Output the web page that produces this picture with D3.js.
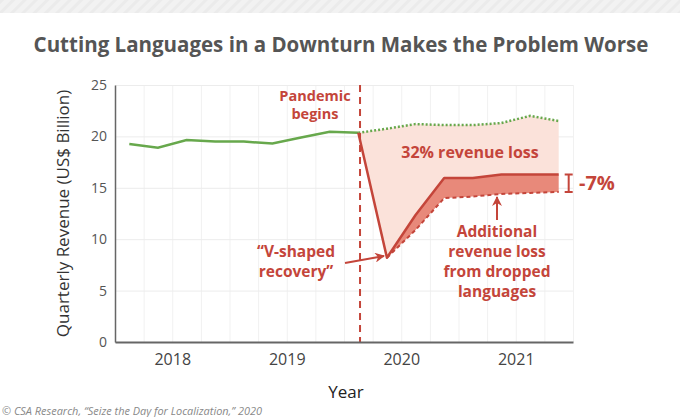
<!DOCTYPE html>
<html>
<head>
<meta charset="utf-8">
<script src="https://cdn.jsdelivr.net/npm/d3@7"></script>
<style>
  html, body { margin: 0; padding: 0; background: #fff; }
  svg { display: block; font-family: 'Open Sans', sans-serif; }
</style>
</head>
<body>
<div id="chart"></div>
<script>
// Quarter midpoints (decimal years) used for every series
const quarters = [
  2017.625, 2017.875, 2018.125, 2018.375, 2018.625, 2018.875, 2019.125, 2019.375,
  2019.625, 2019.875, 2020.125, 2020.375, 2020.625, 2020.875, 2021.125, 2021.375,
];

// Revenue before the pandemic (quarters 0-8)
const preRevenue = [19.25, 18.9, 19.65, 19.5, 19.5, 19.3, 19.9, 20.45, 20.35];

// Projected revenue without a downturn (quarters 8-15)
const projectedRevenue = [20.35, 20.75, 21.2, 21.1, 21.1, 21.3, 22.0, 21.5];

// Revenue keeping all languages (quarters 8-15)
const keptRevenue = [20.35, 8.2, 12.35, 15.95, 15.95, 16.3, 16.3, 16.3];

// Revenue after dropping languages (quarters 9-15)
const droppedRevenue = [8.2, 10.9, 14.0, 14.15, 14.4, 14.5, 14.6];

const yearTicks = [2018, 2019, 2020, 2021];
const revenueTicks = [0, 5, 10, 15, 20, 25];
const pandemicStart = 2019.64;

const width = 680;
const height = 417;
const margin = { top: 85, right: 107, bottom: 75, left: 115 };

const red = '#c4453a';
const green = '#67a84c';

const svg = d3
  .select('#chart')
  .append('svg')
  .attr('width', width)
  .attr('height', height);

// Striped header band
const defs = svg.append('defs');
const stripes = defs
  .append('pattern')
  .attr('id', 'stripes')
  .attr('patternUnits', 'userSpaceOnUse')
  .attr('width', 8)
  .attr('height', 8)
  .attr('patternTransform', 'rotate(45)');
stripes.append('rect').attr('width', 8).attr('height', 8).attr('fill', '#f2f2f2');
stripes.append('rect').attr('width', 3).attr('height', 8).attr('fill', '#ebebeb');
svg.append('rect').attr('width', width).attr('height', 13).attr('fill', 'url(#stripes)');

// Scales
const x = d3
  .scaleLinear()
  .domain([2017.5, 2021.5])
  .range([margin.left, width - margin.right]);

const y = d3
  .scaleLinear()
  .domain([0, 25])
  .range([height - margin.bottom, margin.top]);

const x0 = x.range()[0];
const x1 = x.range()[1];

// Gridlines
svg
  .append('g')
  .attr('class', 'grid grid--x')
  .attr('transform', `translate(0,${y(0)})`)
  .call(
    d3
      .axisBottom(x)
      .tickValues(d3.range(2017.75, 2021.51, 0.25))
      .tickSize(-(y(0) - y(25)))
      .tickFormat('')
  )
  .call((g) => g.select('.domain').remove())
  .call((g) => g.selectAll('line').attr('stroke', '#f1f1f1'));

svg
  .append('g')
  .attr('class', 'grid grid--y')
  .attr('transform', `translate(${x0},0)`)
  .call(d3.axisLeft(y).tickValues(revenueTicks).tickSize(-(x1 - x0)).tickFormat(''))
  .call((g) => g.select('.domain').remove())
  .call((g) => g.selectAll('line').attr('stroke', '#ececec'));

// Rows for the two shaded areas
const lossRows = projectedRevenue.map((v, i) => ({
  q: quarters[i + 8],
  top: v,
  bottom: keptRevenue[i],
}));
const droppedRows = droppedRevenue.map((v, i) => ({
  q: quarters[i + 9],
  top: keptRevenue[i + 1],
  bottom: v,
}));

const area = d3
  .area()
  .x((d) => x(d.q))
  .y0((d) => y(d.bottom))
  .y1((d) => y(d.top));

svg.append('path').datum(lossRows).attr('fill', '#fbe2da').attr('d', area);
svg.append('path').datum(droppedRows).attr('fill', '#e8897a').attr('d', area);

const line = d3
  .line()
  .x((d) => x(d[0]))
  .y((d) => y(d[1]));

// Pre-pandemic revenue
svg
  .append('path')
  .datum(preRevenue.map((v, i) => [quarters[i], v]))
  .attr('fill', 'none')
  .attr('stroke', green)
  .attr('stroke-width', 2.5)
  .attr('d', line);

// Projected revenue
svg
  .append('path')
  .datum(projectedRevenue.map((v, i) => [quarters[i + 8], v]))
  .attr('fill', 'none')
  .attr('stroke', green)
  .attr('stroke-width', 2.5)
  .attr('stroke-dasharray', '2 2')
  .attr('d', line);

// Dropped languages revenue
svg
  .append('path')
  .datum(droppedRevenue.map((v, i) => [quarters[i + 9], v]))
  .attr('fill', 'none')
  .attr('stroke', red)
  .attr('stroke-width', 2)
  .attr('stroke-dasharray', '4 3')
  .attr('d', line);

// Kept languages revenue
svg
  .append('path')
  .datum(keptRevenue.map((v, i) => [quarters[i + 8], v]))
  .attr('fill', 'none')
  .attr('stroke', red)
  .attr('stroke-width', 2.5)
  .attr('stroke-linejoin', 'round')
  .attr('d', line);

// Pandemic marker
svg
  .append('line')
  .attr('x1', x(pandemicStart))
  .attr('x2', x(pandemicStart))
  .attr('y1', y(25))
  .attr('y2', y(0))
  .attr('stroke', red)
  .attr('stroke-width', 2)
  .attr('stroke-dasharray', '7 5');

// Axes
svg
  .append('g')
  .attr('class', 'y-axis axis')
  .attr('transform', `translate(${x0},0)`)
  .call(d3.axisLeft(y).tickValues(revenueTicks).tickSize(0).tickPadding(8))
  .call((g) => g.select('.domain').attr('stroke', '#666').attr('stroke-width', 1.5))
  .selectAll('text')
  .attr('fill', '#555')
  .style('font-family', 'Open Sans')
  .style('font-size', '14px');

svg
  .append('g')
  .attr('class', 'x-axis axis')
  .attr('transform', `translate(0,${y(0)})`)
  .call(d3.axisBottom(x).tickValues(yearTicks).tickFormat(d3.format('d')).tickSize(0).tickPadding(12))
  .call((g) => g.select('.domain').attr('stroke', '#666').attr('stroke-width', 2))
  .selectAll('text')
  .attr('fill', '#444')
  .style('font-family', 'Open Sans')
  .style('font-size', '16px');

// Axis labels
svg
  .append('text')
  .attr('transform', `translate(69,${(y(0) + y(25)) / 2}) rotate(-90)`)
  .attr('text-anchor', 'middle')
  .attr('fill', '#333')
  .style('font-size', '17px')
  .text('Quarterly Revenue (US$ Billion)');

svg
  .append('text')
  .attr('x', 346)
  .attr('y', 398)
  .attr('text-anchor', 'middle')
  .attr('fill', '#222')
  .style('font-size', '17px')
  .text('Year');

// Title
svg
  .append('text')
  .attr('x', 341)
  .attr('y', 52)
  .attr('text-anchor', 'middle')
  .attr('fill', '#555')
  .style('font-size', '20.5px')
  .style('font-weight', 700)
  .text('Cutting Languages in a Downturn Makes the Problem Worse');

// Source note
svg
  .append('text')
  .attr('x', 2)
  .attr('y', 415)
  .attr('fill', '#888')
  .style('font-size', '11.5px')
  .style('font-style', 'italic')
  .attr('textLength', 260)
  .attr('lengthAdjust', 'spacingAndGlyphs')
  .text('© CSA Research, “Seize the Day for Localization,” 2020');

// Annotations
const note = (lines, cx, y0, size, step) => {
  const t = svg
    .append('text')
    .attr('text-anchor', 'middle')
    .attr('fill', red)
    .style('font-size', `${size}px`)
    .style('font-weight', 700);
  lines.forEach((s, i) => {
    t.append('tspan').attr('x', cx).attr('y', y0 + i * step).text(s);
  });
};

note(['Pandemic', 'begins'], 315, 101, 14.5, 18);
note(['32% revenue loss'], 470, 158, 16, 0);
note(['Additional', 'revenue loss', 'from dropped', 'languages'], 497, 237, 15.5, 20);
note(['“V-shaped', 'recovery”'], 296, 257, 15.5, 20);

svg
  .append('text')
  .attr('x', 579)
  .attr('y', 190)
  .attr('fill', red)
  .style('font-size', '20px')
  .style('font-weight', 700)
  .text('-7%');

// Bracket for -7%
const lastQ = quarters[quarters.length - 1];
const bx = x(lastQ) + 10;
const bTop = y(keptRevenue[keptRevenue.length - 1]);
const bBot = y(droppedRevenue[droppedRevenue.length - 1]);
svg
  .append('path')
  .attr('d', `M${bx - 4},${bTop}H${bx + 4}M${bx},${bTop}V${bBot}M${bx - 4},${bBot}H${bx + 4}`)
  .attr('stroke', red)
  .attr('stroke-width', 2)
  .attr('fill', 'none');

// Arrows
defs
  .append('marker')
  .attr('id', 'arrow')
  .attr('viewBox', '0 0 10 10')
  .attr('refX', 9)
  .attr('refY', 5)
  .attr('markerWidth', 5)
  .attr('markerHeight', 5)
  .attr('orient', 'auto')
  .append('path')
  .attr('d', 'M0,0L10,5L0,10L3,5Z')
  .attr('fill', red);

svg
  .append('line')
  .attr('x1', 345)
  .attr('y1', 263)
  .attr('x2', 384)
  .attr('y2', 256)
  .attr('stroke', red)
  .attr('stroke-width', 2)
  .attr('marker-end', 'url(#arrow)');

svg
  .append('line')
  .attr('x1', 497)
  .attr('y1', 220)
  .attr('x2', 497)
  .attr('y2', 197)
  .attr('stroke', red)
  .attr('stroke-width', 2)
  .attr('marker-end', 'url(#arrow)');
</script>
</body>
</html>
